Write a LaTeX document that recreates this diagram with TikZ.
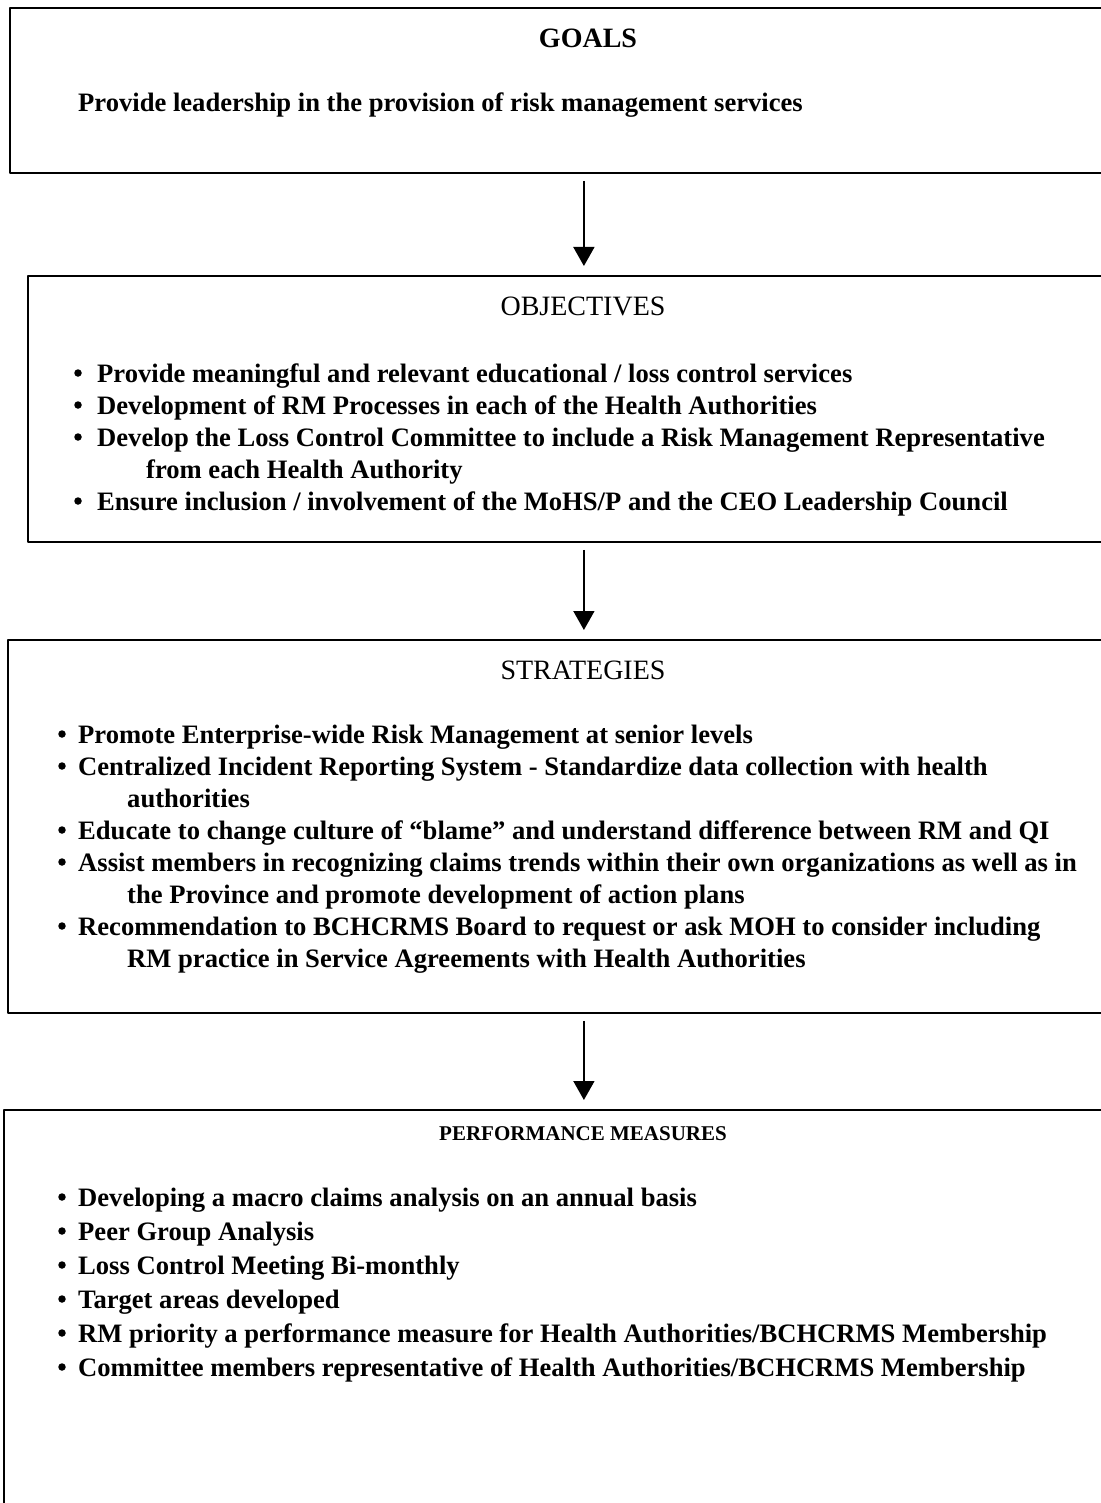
\documentclass[tikz,border=0pt]{standalone}
\usepackage{fontspec}
\setmainfont{Liberation Serif}
\usetikzlibrary{arrows.meta,positioning}

\begin{document}
\begin{tikzpicture}[x=1pt,y=-1pt,>={Triangle[width=21pt,length=19pt]},line join=round]
  \tikzset{
    panel/.style={draw,line width=1.8pt,anchor=north west,inner sep=0pt},
    flow/.style={->,line width=1.6pt,shorten <=7pt,shorten >=9pt},
    head/.style={anchor=base,inner sep=0pt,font=\fontsize{28}{32}\selectfont},
    item/.style={anchor=base west,inner sep=0pt,font=\fontsize{26.6}{30}\selectfont\bfseries},
    dot/.style={circle,fill,inner sep=0pt,minimum size=7.5pt,yshift=9pt}
  }
  \useasboundingbox (0,0) rectangle (1100,1503);
  % boxes
  \node[panel,minimum width=1148pt,minimum height=165pt] (goals) at (9,7) {};
  \node[panel,minimum width=1112pt,minimum height=266pt] (obj) at (27,275) {};
  \node[panel,minimum width=1152pt,minimum height=373pt] (strat) at (7,639) {};
  \node[panel,minimum width=1160pt,minimum height=500pt] (perf) at (3,1109) {};
  % arrows
  \draw[flow] (goals.south) -- (obj.north);
  \draw[flow] (obj.south) -- (strat.north);
  \draw[flow] (strat.south) -- (perf.north);
  % goals
  \node[head,font=\fontsize{28}{32}\selectfont\bfseries] (gT) at (588,48) {GOALS};
  \node[item] (g1) at (78,112) {Provide leadership in the provision of risk management services};
  % objectives
  \node[head] (oT) at (583,316) {OBJECTIVES};
  \node[dot] (ob1) at (78,382) {};
  \node[item] (o1) at (97,382) {Provide meaningful and relevant educational / loss control services};
  \node[dot] (ob2) at (78,414) {};
  \node[item] (o2) at (97,414) {Development of RM Processes in each of the Health Authorities};
  \node[dot] (ob3) at (78,446) {};
  \node[item] (o3) at (97,446) {Develop the Loss Control Committee to include a Risk Management Representative};
  \node[item] (o3b) at (146,478) {from each Health Authority};
  \node[dot] (ob4) at (78,510) {};
  \node[item] (o4) at (97,510) {Ensure inclusion / involvement of the MoHS/P and the CEO Leadership Council};
  % strategies
  \node[head] (sT) at (583,679) {STRATEGIES};
  \node[dot] (sb1) at (62,743) {};
  \node[item] (s1) at (78,743) {Promote Enterprise-wide Risk Management at senior levels};
  \node[dot] (sb2) at (62,775) {};
  \node[item] (s2) at (78,775) {Centralized Incident Reporting System - Standardize data collection with health};
  \node[item] (s2b) at (127,807) {authorities};
  \node[dot] (sb3) at (62,839) {};
  \node[item] (s3) at (78,839) {Educate to change culture of “blame” and understand difference between RM and QI};
  \node[dot] (sb4) at (62,871) {};
  \node[item] (s4) at (78,871) {Assist members in recognizing claims trends within their own organizations as well as in};
  \node[item] (s4b) at (127,903) {the Province and promote development of action plans};
  \node[dot] (sb5) at (62,935) {};
  \node[item] (s5) at (78,935) {Recommendation to BCHCRMS Board to request or ask MOH to consider including};
  \node[item] (s5b) at (127,967) {RM practice in Service Agreements with Health Authorities};
  % performance measures
  \node[head,font=\fontsize{21}{25}\selectfont\bfseries] (pT) at (583,1140) {PERFORMANCE MEASURES};
  \node[dot] (pb1) at (62,1206) {};
  \node[item] (p1) at (78,1206) {Developing a macro claims analysis on an annual basis};
  \node[dot] (pb2) at (62,1240) {};
  \node[item] (p2) at (78,1240) {Peer Group Analysis};
  \node[dot] (pb3) at (62,1274) {};
  \node[item] (p3) at (78,1274) {Loss Control Meeting Bi-monthly};
  \node[dot] (pb4) at (62,1308) {};
  \node[item] (p4) at (78,1308) {Target areas developed};
  \node[dot] (pb5) at (62,1342) {};
  \node[item] (p5) at (78,1342) {RM priority a performance measure for Health Authorities/BCHCRMS Membership};
  \node[dot] (pb6) at (62,1376) {};
  \node[item] (p6) at (78,1376) {Committee members representative of Health Authorities/BCHCRMS Membership};
\end{tikzpicture}
\end{document}
